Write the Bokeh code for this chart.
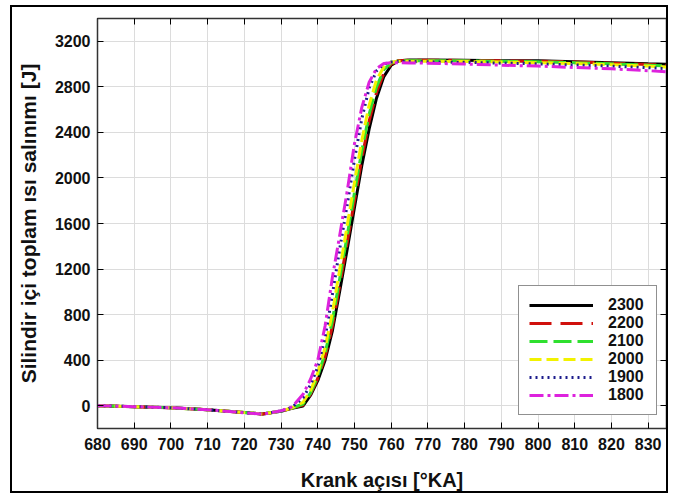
from bokeh.plotting import figure
from bokeh.models import LinearAxis, Range1d, FixedTicker, Legend, LegendItem
from bokeh.embed import file_html
from bokeh.resources import INLINE

# Crank angle [°KA]
crank = [680, 690, 700, 710, 720, 725, 730, 733, 736, 738, 740, 742, 744, 746, 748,
         750, 752, 754, 756, 758, 760, 762, 765, 770, 780, 790, 800, 810, 820, 830, 835]

# Cumulative heat release [J] per engine speed (rpm)
q2300 = [0, -8, -18, -35, -60, -72, -48, -22, -2, 90, 220, 400, 660, 1010, 1370,
         1740, 2110, 2430, 2700, 2890, 2990, 3030, 3035, 3035, 3033, 3030, 3028, 3020, 3012, 3002, 2998]
q2200 = [0, -8, -18, -35, -60, -72, -48, -21, 5, 100, 240, 430, 700, 1060, 1430,
         1800, 2170, 2500, 2750, 2920, 3000, 3030, 3034, 3034, 3032, 3028, 3025, 3018, 3008, 2996, 2990]
q2100 = [0, -8, -18, -35, -60, -72, -47, -20, 15, 110, 260, 460, 750, 1120, 1490,
         1870, 2240, 2560, 2800, 2950, 3010, 3028, 3030, 3030, 3028, 3024, 3020, 3012, 3002, 2990, 2984]
q2000 = [0, -8, -18, -35, -60, -72, -47, -18, 30, 130, 290, 510, 820, 1200, 1580,
         1960, 2330, 2640, 2860, 2975, 3015, 3025, 3025, 3025, 3022, 3018, 3012, 3005, 2995, 2982, 2975]
q1900 = [0, -8, -18, -35, -61, -73, -46, -14, 70, 180, 340, 600, 980, 1380, 1760,
         2160, 2520, 2790, 2940, 3000, 3018, 3022, 3022, 3020, 3015, 3008, 3002, 2992, 2982, 2968, 2960]
q1800 = [0, -8, -18, -35, -62, -74, -45, -10, 100, 230, 400, 700, 1130, 1500, 1880,
         2300, 2620, 2840, 2960, 3005, 3012, 3012, 3010, 3008, 3000, 2990, 2982, 2970, 2958, 2942, 2932]

series_labels = ["2300", "2200", "2100", "2000", "1900", "1800"]
x_ticks = [680, 690, 700, 710, 720, 730, 740, 750, 760, 770, 780, 790, 800, 810, 820, 830]
y_ticks = [0, 400, 800, 1200, 1600, 2000, 2400, 2800, 3200]

FONT = "Liberation Sans"
W, H = 658, 488

p = figure(width=W, height=H, output_backend="svg", toolbar_location=None,
           x_range=Range1d(680, 835), y_range=Range1d(-200, 3400),
           min_border_left=85, min_border_right=4, min_border_top=11, min_border_bottom=67,
           border_fill_color="white",
           styles={"border": "2px solid black", "margin-left": "10px", "margin-top": "5px"})
p.outline_line_color = "#333333"
p.outline_line_width = 1.5

for ax in (p.xaxis[0], p.yaxis[0]):
    ax.major_tick_in = 6
    ax.major_tick_out = 0
    ax.minor_tick_in = 0
    ax.minor_tick_out = 0
    ax.axis_line_color = "#333333"
    ax.major_label_text_font = FONT
    ax.major_label_text_font_style = "bold"
    ax.major_label_text_font_size = "16px"
    ax.major_label_text_color = "#111111"
    ax.axis_label_text_font = FONT
    ax.axis_label_text_font_style = "bold"
    ax.axis_label_text_color = "#111111"

p.xaxis[0].axis_label_text_font_size = "20px"
p.yaxis[0].axis_label_text_font_size = "21px"
p.xaxis[0].ticker = FixedTicker(ticks=x_ticks)
p.yaxis[0].ticker = FixedTicker(ticks=y_ticks)
p.xaxis[0].axis_label = "Krank açısı [°KA]"
p.yaxis[0].axis_label = "Silindir içi toplam ısı salınımı [J]"
p.xaxis[0].major_label_standoff = 9
p.yaxis[0].major_label_standoff = 7
p.xaxis[0].axis_label_standoff = 16
p.yaxis[0].axis_label_standoff = 12

# mirrored tick marks on top and right (no labels)
top = LinearAxis(ticker=FixedTicker(ticks=x_ticks), major_tick_in=6, major_tick_out=0,
                 minor_tick_in=0, minor_tick_out=0, major_label_text_font_size="0px",
                 major_label_text_color=None, major_label_standoff=0,
                 axis_line_color="#333333")
right = LinearAxis(ticker=FixedTicker(ticks=y_ticks), major_tick_in=6, major_tick_out=0,
                   minor_tick_in=0, minor_tick_out=0, major_label_text_font_size="0px",
                   major_label_text_color=None, major_label_standoff=0,
                   axis_line_color="#333333")
p.add_layout(top, "above")
p.add_layout(right, "right")

p.xgrid.ticker = FixedTicker(ticks=x_ticks)
p.ygrid.ticker = FixedTicker(ticks=y_ticks)
p.xgrid.grid_line_color = "#dcdcdc"
p.ygrid.grid_line_color = "#dcdcdc"

styles = [
    ("#000000", "solid"),
    ("#d0100c", "22 9"),
    ("#2fe02f", "18 6"),
    ("#f2f200", "12 5"),
    ("#1c1c8c", "2 4"),
    ("#dd22dd", "14 4 3 4"),
]
data = [q2300, q2200, q2100, q2000, q1900, q1800]

items = []
for lab, ys, (col, dash) in zip(series_labels, data, styles):
    r = p.line(crank, ys, line_color=col, line_dash=dash, line_width=3)
    items.append(LegendItem(label=lab, renderers=[r]))

legend = Legend(items=items, location=(421, 13), margin=0,
                label_text_font=FONT, label_text_font_style="bold",
                label_text_font_size="16px", label_text_color="#111111",
                glyph_width=64, glyph_height=18, label_height=18, label_width=38,
                label_standoff=15, spacing=0, padding=10,
                border_line_color="#222222", border_line_width=1,
                background_fill_color="white", background_fill_alpha=1)
p.add_layout(legend, "center")

open("out.html", "w").write(file_html(p, INLINE))
